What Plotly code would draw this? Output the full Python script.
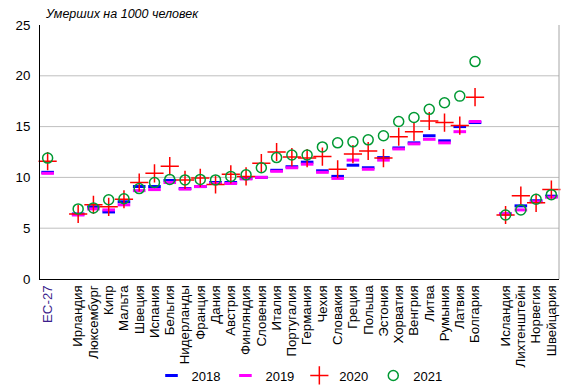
import plotly.graph_objects as go

# Categories (blank slots separate groups)
categories = ["ЕС-27", " ",
              "Ирландия", "Люксембург", "Кипр", "Мальта", "Швеция", "Испания", "Бельгия",
              "Нидерланды", "Франция", "Дания", "Австрия", "Финляндия", "Словения", "Италия",
              "Португалия", "Германия", "Чехия", "Словакия", "Греция", "Польша", "Эстония",
              "Хорватия", "Венгрия", "Литва", "Румыния", "Латвия", "Болгария", "  ",
              "Исландия", "Лихтенштейн", "Норвегия", "Швейцария"]

countries = ["ЕС-27",
             "Ирландия", "Люксембург", "Кипр", "Мальта", "Швеция", "Испания", "Бельгия",
             "Нидерланды", "Франция", "Дания", "Австрия", "Финляндия", "Словения", "Италия",
             "Португалия", "Германия", "Чехия", "Словакия", "Греция", "Польша", "Эстония",
             "Хорватия", "Венгрия", "Литва", "Румыния", "Латвия", "Болгария",
             "Исландия", "Лихтенштейн", "Норвегия", "Швейцария"]

v2018 = [10.5, 6.4, 7.1, 6.6, 7.6, 9.1, 9.1, 9.7, 8.9, 9.1, 9.5, 9.5, 9.9, 10.0, 10.7,
         11.05, 11.5, 10.65, 10.1, 11.2, 10.95, 11.95, 12.9, 13.4, 14.1, 13.6, 15.0, 15.4,
         6.4, 7.2, 7.7, 8.15]
v2019 = [10.4, 6.3, 6.9, 6.8, 7.3, 8.7, 8.8, 9.5, 8.85, 9.1, 9.4, 9.4, 9.85, 10.0, 10.6,
         10.95, 11.3, 10.5, 9.9, 11.7, 10.8, 11.7, 12.8, 13.3, 13.75, 13.4, 14.5, 15.5,
         6.4, 6.8, 7.6, 8.05]
v2020 = [11.6, 6.4, 7.3, 7.1, 7.85, 9.5, 10.4, 11.1, 9.75, 9.95, 9.3, 10.3, 10.1, 11.4, 12.5,
         12.0, 11.9, 12.05, 10.8, 12.3, 12.6, 11.9, 14.0, 14.5, 15.55, 15.4, 15.1, 17.9,
         6.3, 8.2, 7.5, 8.8]
v2021 = [11.9, 6.9, 7.0, 7.8, 7.9, 8.9, 9.5, 9.8, 9.75, 9.8, 9.75, 10.1, 10.25, 10.95, 11.95,
         12.2, 12.2, 13.0, 13.4, 13.5, 13.7, 14.1, 15.5, 15.9, 16.7, 17.35, 18.0, 21.4,
         6.3, 6.8, 7.85, 8.3]

years = ["2018", "2019", "2020", "2021"]
series = [v2018, v2019, v2020, v2021]
colors = ["#0000FF", "#FF00FF", "#FF0000", "#009933"]
symbols = ["line-ew", "line-ew", "cross-thin", "circle-open"]
sizes = [9, 9, 13, 10]
widths = [3, 3, 1.5, 1.5]

fig = go.Figure()
for name, vals, c, s, sz, w in zip(years, series, colors, symbols, sizes, widths):
    fig.add_trace(go.Scatter(
        x=countries, y=vals, mode="markers", name=name,
        marker=dict(symbol=s, size=sz, color=c, line=dict(color=c, width=w)),
        cliponaxis=False,
    ))

ticktext = [("<span style='color:#3C1E8C'>%s</span>" % c) if c == "ЕС-27" else c
            for c in categories]

font = "Arial, Liberation Sans, sans-serif"
fig.update_layout(
    width=574, height=390,
    margin=dict(l=40, r=15, t=25, b=111, autoexpand=False),
    paper_bgcolor="white", plot_bgcolor="white",
    font=dict(family=font, size=12, color="black"),
    showlegend=True,
    legend=dict(orientation="h", x=0.5, xanchor="center", y=-0.38, yanchor="middle",
                font=dict(size=13), itemwidth=30, bgcolor="rgba(0,0,0,0)",
                tracegroupgap=0),
    xaxis=dict(type="category", categoryorder="array", categoryarray=categories,
               tickmode="array", tickvals=categories, ticktext=ticktext,
               tickangle=-90, tickfont=dict(size=13.3), showgrid=False,
               showline=True, linecolor="black", linewidth=1, ticks="",
               range=[-0.5, len(categories) - 0.5], zeroline=False),
    yaxis=dict(range=[0, 25], tickvals=[0, 5, 10, 15, 20, 25], showgrid=False,
               tickfont=dict(size=13.3), showline=True, linecolor="black", linewidth=1,
               ticks="", ticklabelstandoff=6, zeroline=False),
    annotations=[dict(text="<i>Умерших на 1000 человек</i>", xref="paper", yref="paper",
                      x=0.0, y=1.0, xanchor="left", yanchor="bottom", showarrow=False,
                      font=dict(size=12.5, color="black"), yshift=2, xshift=3)],
    shapes=[dict(type="line", xref="paper", yref="y", x0=0, x1=1, y0=g, y1=g,
                 line=dict(color="#BFBFBF", width=1), layer="below") for g in [5, 10, 15, 20]]
    + [dict(type="line", xref="paper", yref="paper", x0=1, x1=1, y0=0, y1=1,
            line=dict(color="#A6A6A6", width=1))],
)

fig.write_html("out.html", config={"displayModeBar": False},
               post_script="document.body.style.margin='0';")
